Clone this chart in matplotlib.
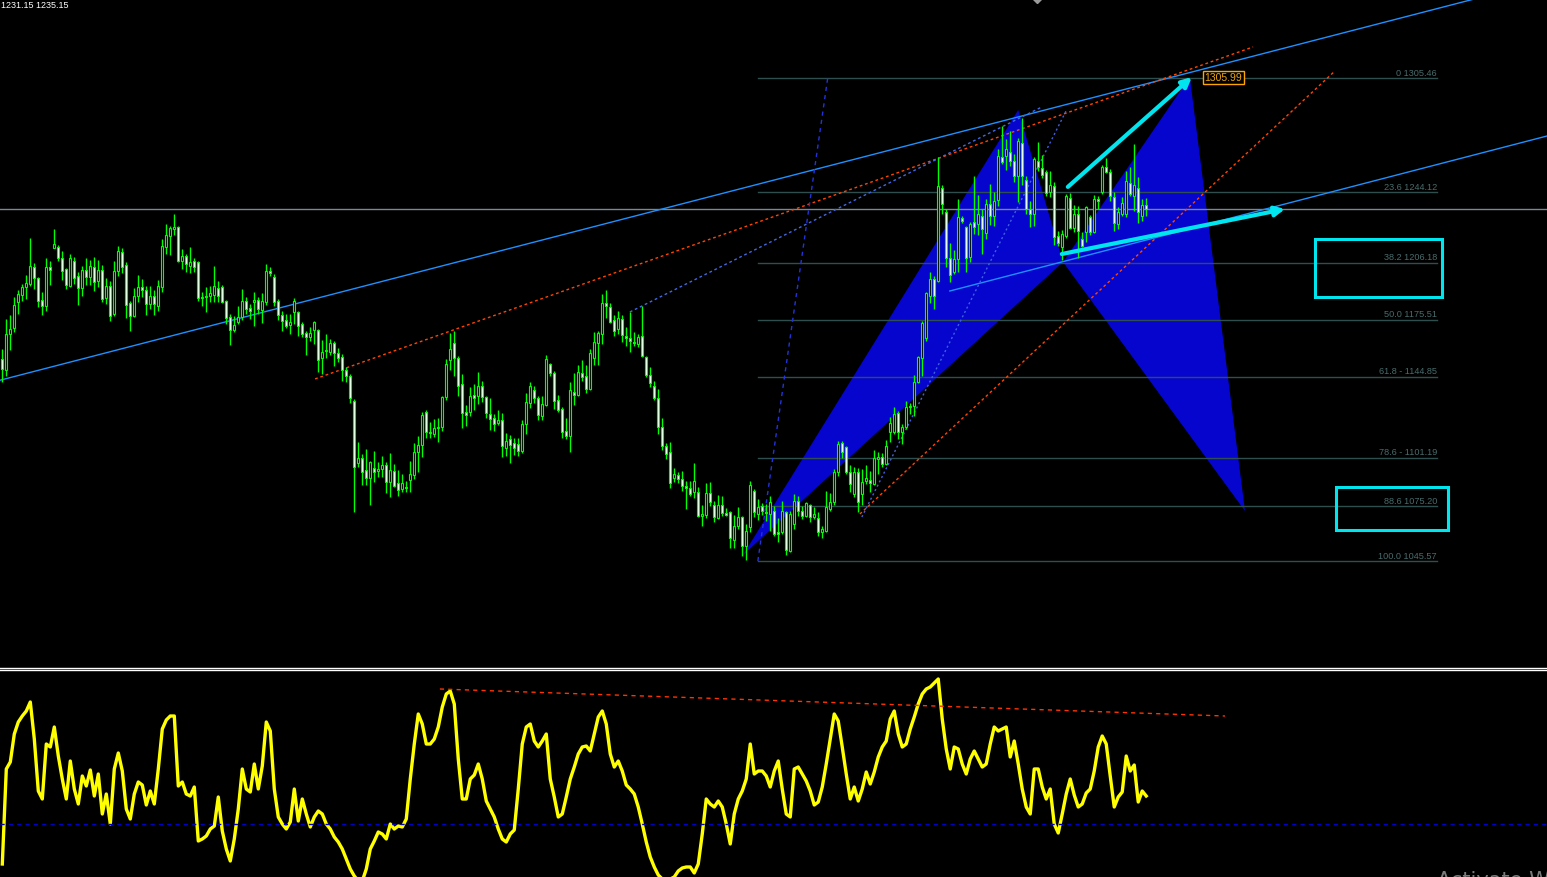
import numpy as np
import matplotlib
matplotlib.use('Agg')
import matplotlib.pyplot as plt
from matplotlib.patches import Polygon, Rectangle
from matplotlib.lines import Line2D

# OHLC per bar
opens = [1154.3, 1148.4, 1167.8, 1171.0, 1185.0, 1188.8, 1193.1, 1194.7, 1203.8, 1197.9,
         1186.1, 1182.8, 1203.8, 1214.0, 1214.6, 1208.7, 1202.7, 1193.6, 1207.0, 1199.0,
         1192.5, 1202.2, 1198.4, 1203.8, 1196.3, 1202.2, 1187.1, 1193.6, 1178.5, 1201.7,
         1211.9, 1204.9, 1184.4, 1177.5, 1188.2, 1193.1, 1191.4, 1183.9, 1188.2, 1182.8,
         1193.1, 1214.6, 1220.5, 1224.3, 1225.3, 1207.0, 1209.7, 1204.4, 1207.0, 1206.5,
         1187.1, 1187.7, 1188.2, 1188.8, 1192.5, 1193.1, 1185.5, 1176.9, 1169.9, 1174.2,
         1176.9, 1185.5, 1181.8, 1185.0, 1186.1, 1180.7, 1185.0, 1201.7, 1198.4, 1185.5,
         1178.0, 1175.3, 1172.6, 1179.6, 1179.6, 1173.1, 1168.3, 1166.2, 1169.9, 1169.9,
         1154.9, 1158.6, 1158.1, 1162.9, 1157.5, 1155.4, 1148.4, 1145.2, 1131.7, 1098.4,
         1101.1, 1094.6, 1090.3, 1095.7, 1094.1, 1095.1, 1097.3, 1088.1, 1094.1, 1087.6,
         1084.4, 1085.5, 1089.2, 1091.9, 1104.3, 1108.0, 1125.8, 1115.0, 1114.0, 1117.2,
         1117.7, 1133.9, 1153.8, 1162.9, 1154.9, 1140.9, 1125.8, 1125.8, 1135.0, 1134.4,
         1139.8, 1133.9, 1124.7, 1122.6, 1119.9, 1121.5, 1106.4, 1111.3, 1109.1, 1108.6,
         1104.8, 1119.3, 1130.6, 1137.6, 1133.4, 1123.7, 1129.6, 1151.6, 1146.8, 1132.3,
         1127.4, 1115.6, 1112.9, 1136.5, 1135.0, 1146.8, 1145.2, 1138.2, 1154.9, 1162.9,
         1167.8, 1184.4, 1182.3, 1175.3, 1170.5, 1175.8, 1166.7, 1165.6, 1163.5, 1162.4,
         1166.7, 1155.4, 1145.7, 1139.8, 1133.4, 1117.7, 1107.5, 1104.3, 1090.3, 1091.9,
         1089.8, 1086.0, 1084.9, 1082.8, 1082.8, 1069.9, 1070.4, 1082.2, 1075.8, 1068.8,
         1075.8, 1071.5, 1072.0, 1056.9, 1064.5, 1069.3, 1053.7, 1063.9, 1083.3, 1070.9,
         1075.2, 1072.0, 1070.9, 1072.5, 1061.3, 1061.3, 1072.0, 1051.0, 1065.5, 1077.9,
         1072.5, 1069.9, 1075.8, 1069.3, 1068.8, 1061.3, 1061.8, 1073.6, 1077.4, 1093.5,
         1109.1, 1107.0, 1093.5, 1081.7, 1093.5, 1081.7, 1088.7, 1089.2, 1087.0, 1100.5,
         1101.6, 1097.8, 1115.0, 1115.0, 1125.3, 1115.0, 1117.7, 1128.5, 1129.0, 1141.9,
         1154.9, 1165.6, 1188.2, 1197.4, 1196.3, 1246.3, 1233.4, 1208.7, 1201.1, 1208.1,
         1230.2, 1225.3, 1209.2, 1228.0, 1227.0, 1231.3, 1222.1, 1237.7, 1231.3, 1239.9,
         1263.0, 1263.5, 1265.7, 1260.8, 1252.8, 1270.7, 1250.7, 1235.0, 1232.3, 1260.8,
         1257.1, 1255.0, 1244.2, 1247.4, 1220.5, 1214.6, 1220.5, 1240.9, 1224.8, 1232.3,
         1218.9, 1222.6, 1230.7, 1222.6, 1240.4, 1244.2, 1257.6, 1255.0, 1241.5, 1227.0,
         1232.3, 1232.3, 1249.0, 1242.0, 1246.3, 1231.3, 1237.2]
highs = [1159.7, 1175.8, 1178.0, 1187.7, 1191.4, 1194.7, 1199.5, 1219.4, 1206.0, 1198.4,
         1190.4, 1208.7, 1207.0, 1224.3, 1215.7, 1212.4, 1203.3, 1210.8, 1209.2, 1201.1,
         1204.4, 1208.7, 1207.6, 1209.2, 1207.6, 1204.9, 1197.9, 1196.3, 1207.0, 1215.1,
         1214.0, 1206.5, 1185.5, 1192.5, 1199.5, 1197.4, 1193.6, 1193.6, 1191.4, 1196.8,
         1218.9, 1227.0, 1225.9, 1232.3, 1225.9, 1213.5, 1210.8, 1214.6, 1208.7, 1207.0,
         1190.4, 1193.1, 1193.6, 1204.4, 1196.3, 1194.1, 1186.1, 1178.5, 1177.5, 1182.8,
         1192.0, 1187.7, 1183.9, 1190.4, 1187.7, 1189.8, 1205.4, 1203.8, 1200.1, 1186.6,
         1180.1, 1178.5, 1178.5, 1187.1, 1180.1, 1174.2, 1169.4, 1171.5, 1174.8, 1170.5,
         1164.5, 1167.8, 1165.1, 1164.0, 1160.2, 1157.0, 1150.0, 1146.2, 1132.8, 1109.7,
         1103.2, 1105.9, 1099.5, 1104.8, 1098.9, 1102.1, 1098.9, 1103.7, 1097.8, 1094.6,
         1092.4, 1088.7, 1099.5, 1109.1, 1112.9, 1125.8, 1126.9, 1120.4, 1122.0, 1122.6,
         1134.4, 1154.3, 1168.3, 1169.4, 1155.9, 1146.2, 1129.6, 1139.3, 1140.9, 1147.3,
         1142.5, 1134.4, 1133.4, 1124.7, 1126.9, 1125.3, 1114.5, 1113.4, 1111.8, 1111.8,
         1121.5, 1136.0, 1141.9, 1139.8, 1134.4, 1134.4, 1156.5, 1152.2, 1147.9, 1135.0,
         1128.5, 1122.6, 1141.9, 1146.8, 1151.1, 1153.8, 1151.1, 1159.7, 1168.8, 1169.4,
         1189.3, 1191.4, 1184.4, 1178.0, 1180.1, 1178.0, 1171.5, 1179.6, 1168.8, 1167.8,
         1182.8, 1155.9, 1150.0, 1142.5, 1138.2, 1122.6, 1109.1, 1109.7, 1095.7, 1093.5,
         1094.1, 1088.7, 1088.7, 1098.4, 1085.5, 1075.8, 1087.6, 1088.1, 1077.9, 1081.2,
         1080.6, 1074.2, 1072.5, 1070.4, 1074.7, 1069.9, 1065.5, 1088.7, 1084.4, 1079.0,
         1076.8, 1076.3, 1080.6, 1075.2, 1068.8, 1077.9, 1072.5, 1072.5, 1081.7, 1080.6,
         1075.2, 1077.4, 1076.3, 1074.7, 1072.0, 1064.5, 1083.3, 1082.2, 1095.1, 1110.2,
         1110.2, 1107.5, 1097.3, 1096.2, 1095.7, 1095.1, 1097.3, 1094.1, 1105.4, 1104.3,
         1103.7, 1110.7, 1123.1, 1128.5, 1126.3, 1119.3, 1131.7, 1130.6, 1145.7, 1155.9,
         1174.8, 1190.4, 1201.1, 1199.0, 1263.0, 1247.9, 1235.0, 1216.7, 1213.0, 1240.4,
         1231.3, 1225.9, 1228.0, 1252.8, 1242.6, 1235.0, 1240.4, 1248.5, 1244.2, 1267.3,
         1279.7, 1272.7, 1277.0, 1264.6, 1273.2, 1283.9, 1252.8, 1239.3, 1263.0, 1271.1,
         1264.1, 1256.0, 1255.5, 1249.5, 1223.2, 1223.7, 1243.1, 1243.7, 1237.2, 1236.6,
         1222.6, 1236.6, 1231.8, 1242.6, 1242.0, 1258.7, 1262.5, 1256.5, 1244.2, 1236.1,
         1241.5, 1255.5, 1257.6, 1270.0, 1252.2, 1240.4, 1240.9]
lows = [1141.9, 1145.2, 1159.2, 1168.8, 1178.5, 1185.5, 1186.6, 1193.6, 1192.0, 1182.3,
        1178.0, 1180.1, 1194.1, 1214.0, 1207.0, 1196.8, 1192.0, 1193.1, 1194.7, 1183.4,
        1188.2, 1194.1, 1194.1, 1190.9, 1193.1, 1185.0, 1183.9, 1174.8, 1177.5, 1199.0,
        1200.6, 1176.4, 1169.4, 1176.9, 1185.0, 1187.7, 1178.0, 1181.2, 1178.0, 1180.1,
        1190.4, 1210.8, 1210.3, 1221.0, 1206.5, 1202.7, 1201.1, 1200.6, 1201.1, 1185.5,
        1182.8, 1179.6, 1185.0, 1185.0, 1185.0, 1184.4, 1173.1, 1161.9, 1168.8, 1173.1,
        1175.3, 1178.5, 1175.8, 1172.1, 1178.5, 1173.7, 1183.4, 1199.0, 1182.8, 1175.3,
        1169.4, 1171.0, 1167.8, 1173.1, 1166.7, 1166.2, 1156.5, 1164.0, 1162.4, 1147.3,
        1146.2, 1154.9, 1156.5, 1150.6, 1152.7, 1142.5, 1141.9, 1130.6, 1072.0, 1096.2,
        1086.5, 1086.5, 1075.8, 1088.1, 1090.8, 1090.8, 1082.2, 1080.1, 1085.5, 1080.6,
        1082.8, 1082.8, 1082.8, 1089.8, 1093.5, 1101.6, 1111.8, 1111.8, 1112.4, 1109.7,
        1115.6, 1132.3, 1148.4, 1145.2, 1134.4, 1117.2, 1118.3, 1123.7, 1126.9, 1130.1,
        1131.2, 1122.6, 1116.1, 1115.6, 1118.8, 1101.6, 1102.1, 1098.4, 1102.7, 1102.1,
        1103.7, 1114.0, 1128.0, 1130.6, 1121.5, 1121.5, 1129.0, 1145.2, 1127.4, 1125.8,
        1111.8, 1111.3, 1104.3, 1129.6, 1134.4, 1142.5, 1136.0, 1137.6, 1151.1, 1151.1,
        1162.4, 1176.4, 1173.7, 1166.7, 1167.8, 1163.5, 1161.3, 1158.1, 1161.3, 1160.8,
        1155.4, 1144.6, 1139.3, 1132.3, 1114.0, 1105.4, 1100.5, 1084.9, 1088.1, 1087.6,
        1083.3, 1073.6, 1080.6, 1079.5, 1069.3, 1064.5, 1068.8, 1075.2, 1066.6, 1068.2,
        1069.9, 1069.9, 1052.6, 1052.6, 1062.9, 1048.3, 1046.2, 1061.3, 1069.3, 1067.7,
        1070.4, 1067.2, 1061.8, 1059.1, 1055.9, 1060.2, 1048.8, 1050.5, 1062.9, 1069.9,
        1068.2, 1069.3, 1066.6, 1068.2, 1059.1, 1058.0, 1061.3, 1072.5, 1075.8, 1091.4,
        1101.1, 1092.4, 1082.8, 1080.1, 1072.0, 1075.8, 1087.0, 1082.8, 1086.5, 1092.4,
        1096.2, 1097.3, 1109.7, 1114.0, 1111.3, 1108.6, 1116.7, 1124.7, 1123.7, 1141.4,
        1145.2, 1164.0, 1184.4, 1181.2, 1195.7, 1232.3, 1203.8, 1195.7, 1200.0, 1201.1,
        1227.5, 1201.1, 1206.5, 1221.6, 1221.0, 1210.8, 1218.9, 1226.4, 1225.9, 1236.6,
        1259.2, 1256.0, 1258.1, 1249.5, 1238.8, 1247.9, 1232.3, 1225.3, 1225.9, 1255.5,
        1251.7, 1242.1, 1241.5, 1215.7, 1215.1, 1207.6, 1219.4, 1224.3, 1222.6, 1208.7,
        1214.6, 1217.3, 1221.0, 1222.1, 1235.0, 1243.1, 1254.4, 1239.3, 1223.2, 1224.3,
        1231.3, 1230.7, 1242.0, 1233.9, 1227.5, 1228.6, 1231.15]
closes = [1148.9, 1167.8, 1170.5, 1183.4, 1189.3, 1193.1, 1195.2, 1204.4, 1197.9, 1185.5,
          1182.8, 1203.8, 1202.2, 1216.2, 1208.7, 1201.7, 1194.1, 1208.7, 1197.9, 1192.5,
          1202.2, 1198.4, 1204.4, 1195.7, 1202.2, 1186.6, 1193.6, 1177.5, 1201.7, 1212.4,
          1203.8, 1183.4, 1177.5, 1188.2, 1193.1, 1191.4, 1183.9, 1188.2, 1183.9, 1193.6,
          1215.1, 1221.0, 1224.8, 1225.3, 1207.0, 1209.7, 1205.4, 1206.5, 1203.8, 1187.1,
          1187.7, 1188.2, 1189.8, 1193.6, 1188.2, 1185.0, 1176.4, 1169.9, 1172.5, 1176.9,
          1185.5, 1181.2, 1180.1, 1186.1, 1181.2, 1185.5, 1201.7, 1200.6, 1185.0, 1178.0,
          1174.8, 1172.1, 1174.2, 1185.5, 1172.1, 1167.8, 1166.2, 1168.3, 1174.2, 1153.8,
          1158.1, 1159.2, 1162.9, 1157.5, 1154.9, 1148.4, 1145.2, 1133.4, 1096.2, 1101.1,
          1093.5, 1090.3, 1098.9, 1093.5, 1095.1, 1097.3, 1088.1, 1094.6, 1086.0, 1083.8,
          1087.6, 1084.9, 1092.4, 1104.3, 1108.0, 1124.2, 1115.0, 1114.5, 1117.2, 1117.7,
          1133.9, 1151.6, 1159.7, 1154.9, 1139.8, 1125.3, 1124.2, 1134.4, 1133.4, 1139.8,
          1133.9, 1125.3, 1122.0, 1119.3, 1121.5, 1107.5, 1110.2, 1108.0, 1106.4, 1104.8,
          1119.3, 1131.2, 1139.8, 1133.4, 1124.2, 1130.1, 1154.3, 1146.8, 1131.7, 1126.9,
          1115.0, 1112.9, 1137.6, 1135.0, 1147.3, 1144.6, 1138.2, 1157.5, 1163.5, 1168.3,
          1184.4, 1182.8, 1174.2, 1169.4, 1176.4, 1167.2, 1165.6, 1164.0, 1162.9, 1166.2,
          1155.9, 1145.7, 1141.4, 1133.4, 1117.7, 1107.5, 1103.2, 1087.6, 1092.4, 1089.8,
          1086.0, 1084.9, 1081.7, 1088.7, 1069.9, 1070.9, 1082.2, 1077.4, 1069.3, 1075.8,
          1071.5, 1070.4, 1058.0, 1064.5, 1069.3, 1053.7, 1061.8, 1086.5, 1072.0, 1074.7,
          1072.5, 1071.5, 1077.4, 1060.2, 1060.2, 1072.5, 1051.6, 1070.9, 1077.9, 1072.5,
          1069.9, 1076.8, 1069.3, 1070.9, 1061.3, 1062.9, 1074.7, 1077.4, 1093.5, 1108.6,
          1104.3, 1093.5, 1087.0, 1093.5, 1077.4, 1088.1, 1090.3, 1087.6, 1101.1, 1101.6,
          1097.8, 1107.5, 1119.9, 1124.7, 1115.0, 1117.7, 1128.5, 1129.0, 1141.9, 1155.4,
          1173.7, 1189.8, 1197.4, 1188.2, 1247.4, 1237.7, 1208.7, 1199.5, 1208.1, 1230.7,
          1228.6, 1208.7, 1227.0, 1225.3, 1232.3, 1224.3, 1237.7, 1231.3, 1239.3, 1263.5,
          1260.3, 1267.3, 1260.8, 1252.8, 1271.8, 1252.8, 1235.0, 1232.3, 1261.9, 1257.6,
          1253.3, 1243.7, 1247.9, 1220.0, 1216.7, 1221.6, 1242.1, 1224.8, 1232.3, 1223.2,
          1215.1, 1236.1, 1222.6, 1240.4, 1239.3, 1257.6, 1255.0, 1242.0, 1227.5, 1233.4,
          1238.2, 1250.1, 1243.1, 1247.9, 1233.4, 1237.2, 1235.15]

# oscillator in the lower window
osc = [6.5, 54, 57.5, 71.5, 77.5, 80.5, 83, 87.5, 69, 43,
       39, 66.5, 65, 75, 60.5, 49, 39, 58, 44, 36.5,
       50.5, 45.5, 53.5, 40.5, 51.5, 31.5, 41.5, 26.5, 54, 62,
       53, 34, 29, 41.5, 47.5, 46, 36, 43, 36.5, 54,
       74, 78.5, 80.5, 80.5, 45.5, 47.5, 41.5, 40.5, 45, 18,
       19, 20.5, 24, 25.5, 40, 23, 14, 8, 19, 34,
       54, 44, 42.5, 56.5, 44, 55.5, 77.5, 73, 44, 30,
       26.5, 24, 27.5, 44, 28, 39, 31.5, 25, 30, 33,
       31.5, 26.5, 24, 20, 17.5, 14, 9, 4, 0.5, -2,
       -2, 4, 14, 18, 22.5, 21.5, 19, 26.5, 24, 25.5,
       25, 29, 49, 66.5, 81.5, 76.5, 66.5, 66.5, 69, 75,
       85, 91.5, 93, 86.5, 59, 39, 39, 49, 51, 56.5,
       49, 38, 34, 30, 24, 19, 17.5, 21.5, 23.5, 44,
       66.5, 75, 76.5, 68, 65, 68, 71.5, 49, 40, 30,
       31.5, 40, 49, 55, 61.5, 65, 65.5, 63, 71.5, 80,
       83, 76.5, 61.5, 55, 58, 53, 46, 44, 41.5, 35,
       26.5, 17.5, 10, 5, 1, -1, -1, -1, 0, 3,
       4.5, 5, 5, 2, 6.5, 21.5, 39, 36.5, 35, 38,
       35, 26.5, 16.5, 31.5, 39, 43, 49, 66.5, 51.5, 53,
       53, 50.5, 45, 53, 58, 44, 31.5, 30, 54, 55,
       51.5, 48, 43, 36, 37.5, 45, 56.5, 69, 81.5, 78,
       65, 51.5, 39, 45, 38, 44, 52.5, 46.5, 52.5, 60,
       65, 68, 79, 83, 71.5, 65, 66.5, 74, 80, 86.5,
       91.5, 94, 95, 97, 99, 79, 64, 54, 65, 64,
       56.5, 51.5, 59, 63, 59, 55, 56.5, 66.5, 75, 73,
       74, 75, 60, 68, 56.5, 44, 35, 31.5, 54, 54,
       45, 39, 44, 26.5, 22, 31.5, 41.5, 49, 41, 35,
       36.5, 42, 44, 53, 65, 70.5, 66.5, 50.5, 35, 40,
       42.5, 60.5, 53, 56, 37.5, 43, 40.5]
osc_level = 26.5

fib_pct = ['0', '23.6', '38.2', '50.0', '61.8 -', '78.6 -', '88.6', '100.0']
fib_price = [1305.46, 1244.12, 1206.18, 1175.51, 1144.85, 1101.19, 1075.20, 1045.57]

# X A B C D pivots (bar, price)
pat_bar = [185.2, 254.0, 265.2, 296.9, 310.7]
pat_price = [1048.9, 1288.3, 1206.5, 1306.0, 1072.5]

bid = 1235.15
target = 1305.99

opens, highs, lows, closes = map(np.array, (opens, highs, lows, closes))
x = np.arange(len(closes))
lab_font = 'Liberation Sans'

fig = plt.figure(figsize=(15.47, 8.78), dpi=100, facecolor='black')
ax = fig.add_axes([0, 210 / 878, 1, 668 / 878])
ax2 = fig.add_axes([0, 0, 1, 206 / 878])
for a in (ax, ax2):
    a.set_facecolor('black')
    a.axis('off')
    a.set_xlim(-0.575, 386.2)
ax.set_ylim(988.6, 1348.0)
ax2.set_ylim(0, 103)

# harmonic pattern
ax.add_patch(Polygon(list(zip(pat_bar[:3], pat_price[:3])), closed=True, fc='#0505CD', ec='none', zorder=1))
ax.add_patch(Polygon(list(zip(pat_bar[2:], pat_price[2:])), closed=True, fc='#0505CD', ec='none', zorder=1))

# fibo levels
for pct, p in zip(fib_pct, fib_price):
    ax.plot([188.9, 358.7], [p, p], color='#2F4F4F', lw=1, zorder=2)
    ax.text(358.7, p + 0.7, '%s %.2f' % (pct, p), color='#4A6B6B', fontsize=6.6, family=lab_font,
            ha='right', va='bottom', zorder=2)

ax.axhline(bid, color='#778899', lw=1, zorder=2)

# trendlines
ax.axline((0.7, 1143.6), (253.9, 1284.5), color='#1E90FF', lw=1, zorder=2)
ax.plot([236.9, 400], [1190.9, 1282.0], color='#1E90FF', lw=1, zorder=2)
ax.plot([78.2, 312.7], [1143.6, 1322.2], color='#FF4500', lw=1, ls=(0, (2, 2)), zorder=2)
ax.plot([214.4, 333.2], [1070.9, 1309.3], color='#FF4500', lw=1, ls=(0, (2, 2)), zorder=2)
ax.plot([156.9, 259.9], [1179.6, 1289.9], color='#4169E1', lw=1, ls=(0, (2, 2)), zorder=2)
ax.plot([188.9, 206.4], [1045.6, 1306.0], color='#2233DD', lw=1, ls=(0, (3, 3)), zorder=2)
ax.plot([214.9, 266.2], [1069.3, 1288.8], color='#4060E0', lw=1, ls=(0, (1.5, 2)), zorder=2)

# candles
bear = closes < opens
ax.vlines(x, lows, highs, color='#00FF00', lw=1, zorder=3)
ax.bar(x, np.maximum(np.abs(closes - opens), 0.4), bottom=np.minimum(opens, closes), width=0.5,
       color=np.where(bear, 'white', 'black'), edgecolor='#00FF00', linewidth=0.8, zorder=4)

# arrows + boxes
cyan = '#00E5EE'
ax.annotate('', xy=(297.4, 1306.0), xytext=(266.4, 1246.9), zorder=6,
            arrowprops=dict(arrowstyle='-|>', color=cyan, lw=3, mutation_scale=14, shrinkA=0, shrinkB=0))
ax.annotate('', xy=(320.7, 1235.0), xytext=(264.9, 1210.8), zorder=6,
            arrowprops=dict(arrowstyle='-|>', color=cyan, lw=3, mutation_scale=14, shrinkA=0, shrinkB=0))
ax.add_patch(Rectangle((328.2, 1187.7), 31.7, 31.2, fill=False, ec=cyan, lw=2.2, zorder=6))
ax.add_patch(Rectangle((333.4, 1062.3), 28.0, 23.2, fill=False, ec=cyan, lw=2.2, zorder=6))

ax.text(300.6, target, '%.2f' % target, color='#E8A317', fontsize=7.5, family=lab_font,
        ha='left', va='center', zorder=7,
        bbox=dict(boxstyle='square,pad=0.15', fc='black', ec='#FFA500', lw=1))
ax.plot(258.7, 1347.8, marker='D', ms=4, color='#9A9A9A', zorder=7)

# lower window
ax2.plot(x, osc, color='#FFFF00', lw=2.4, solid_joinstyle='round')
ax2.axhline(osc_level, color='#0000CC', lw=1, ls=(0, (3, 3)))
ax2.plot([109.4, 305.7], [94, 80.5], color='#FF3300', lw=1, ls=(0, (3, 3)))

for yy in (669.3, 671.2):
    fig.add_artist(Line2D([0, 1], [1 - yy / 878, 1 - yy / 878], color='white', lw=1))

fig.text(0.0005, 1 - 6 / 878, '%.2f %.2f' % (lows[-1], closes[-1]), color='white', fontsize=6.5,
         family=lab_font, ha='left', va='center')
fig.text(1437 / 1547, 1 - 871 / 878, 'Activate Windows', color='#7A7A7A', fontsize=15,
         ha='left', va='top')

fig.savefig('out.png', dpi=100, facecolor='black')
